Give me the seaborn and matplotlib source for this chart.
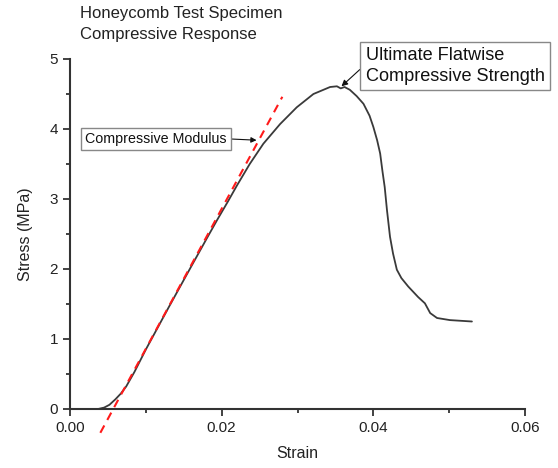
import numpy as np
import pandas as pd
import matplotlib
matplotlib.use("Agg")
import matplotlib.pyplot as plt
import seaborn as sns

# stress-strain curve
strain = [0.0037, 0.0045, 0.0052, 0.0060, 0.0067, 0.0074, 0.0085, 0.0100, 0.0130,
          0.0158, 0.0180, 0.0194, 0.0208, 0.0220, 0.0237, 0.0255, 0.0277, 0.0299,
          0.0321, 0.0343, 0.0352, 0.0357, 0.0362, 0.0369, 0.0378, 0.0387, 0.0395,
          0.0400, 0.0405, 0.0409, 0.0412, 0.0415, 0.0418, 0.0422, 0.0426, 0.0431,
          0.0437, 0.0446, 0.0459, 0.0468, 0.0475, 0.0484, 0.0501, 0.0530]
stress = [0.00, 0.02, 0.06, 0.14, 0.22, 0.32, 0.53, 0.85, 1.45,
          2.00, 2.43, 2.70, 2.96, 3.19, 3.50, 3.79, 4.07, 4.31,
          4.50, 4.60, 4.61, 4.58, 4.60, 4.56, 4.47, 4.36, 4.19,
          4.03, 3.84, 3.65, 3.40, 3.17, 2.84, 2.46, 2.22, 1.99,
          1.87, 1.75, 1.60, 1.51, 1.37, 1.30, 1.27, 1.25]

# modulus fit line end points
modulus_strain = [0.0040, 0.0280]
modulus_stress = [-0.34, 4.46]

curve = pd.DataFrame({"Strain": strain, "Stress": stress})
fit = pd.DataFrame({"Strain": modulus_strain, "Stress": modulus_stress})

sns.set_style("ticks")
plt.rcParams["font.family"] = ["Liberation Sans", "DejaVu Sans"]

fig = plt.figure(figsize=(5.58, 4.68), dpi=100)
ax = fig.add_axes([70/558, 1-409/468, 455/558, 350/468])

sns.lineplot(data=curve, x="Strain", y="Stress", ax=ax, color="#3a3a3a", lw=1.3, sort=False)
sns.lineplot(data=fit, x="Strain", y="Stress", ax=ax, color="#ff1a1a", lw=1.5)
ax.lines[-1].set_dashes([4, 3])
ax.lines[-1].set_clip_on(False)

ax.set_xlim(0, 0.06)
ax.set_ylim(0, 5)
ax.set_xticks([0.00, 0.02, 0.04, 0.06])
ax.set_xticklabels(["0.00", "0.02", "0.04", "0.06"])
ax.set_xticks([0.01, 0.03, 0.05], minor=True)
ax.set_yticks([0, 1, 2, 3, 4, 5])
ax.set_yticks([0.5, 1.5, 2.5, 3.5, 4.5], minor=True)
ax.tick_params(which="major", length=5, width=1.3, colors="#333333", labelsize=11, labelcolor="#222222")
ax.tick_params(which="minor", length=3, width=1.3, colors="#333333")
for s in ["left", "bottom"]:
    ax.spines[s].set_linewidth(1.5)
    ax.spines[s].set_color("#333333")
sns.despine(ax=ax)

ax.set_xlabel("Strain", fontsize=11.5, color="#222222", labelpad=8)
ax.set_ylabel("Stress (MPa)", fontsize=11.5, color="#222222", labelpad=12)

fig.text(80/558, 1-6/468, "Honeycomb Test Specimen\nCompressive Response",
         ha="left", va="top", fontsize=12, color="#222222", linespacing=1.5)

box = dict(boxstyle="square,pad=0.3", fc="white", ec="#888888", lw=1)
ax.annotate("Ultimate Flatwise\nCompressive Strength", xy=(0.0358, 4.61), xytext=(0.0390, 4.90),
            fontsize=13.1, color="#111111", va="center", ha="left", bbox=box, linespacing=1.3,
            annotation_clip=False,
            arrowprops=dict(arrowstyle="-|>", color="#111111", lw=0.8, shrinkA=0, shrinkB=0,
                            mutation_scale=9, relpos=(0, 0.55)))
ax.annotate("Compressive Modulus", xy=(0.0246, 3.84), xytext=(0.0020, 3.86),
            fontsize=10.3, color="#111111", va="center", ha="left", bbox=box,
            arrowprops=dict(arrowstyle="-|>", color="#111111", lw=0.8, shrinkA=0, shrinkB=0,
                            mutation_scale=8, relpos=(1, 0.5)))

fig.savefig("out.png", dpi=100)
